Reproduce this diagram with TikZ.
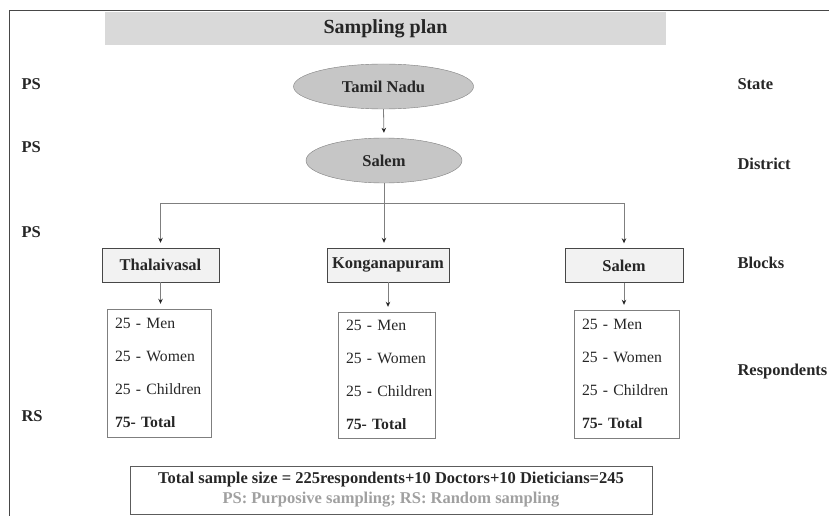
\documentclass[tikz,border=0pt]{standalone}
\usepackage{fontspec}
\setmainfont{Liberation Serif}
\usepackage{tikz}
\usetikzlibrary{arrows.meta, shapes.geometric}
\usepackage{xcolor}
\definecolor{BarGray}{HTML}{D9D9D9}
\definecolor{OvalGray}{HTML}{C6C6C6}
\definecolor{BlockGray}{HTML}{F2F2F2}
\definecolor{EdgeGray}{HTML}{7F7F7F}
\definecolor{InkGray}{HTML}{262626}
\definecolor{NoteGray}{HTML}{A0A0A0}
\newcommand{\respcounts}{\mbox{25 - Men}\\\mbox{25 - Women}\\\mbox{25 - Children}\\\mbox{\textbf{75- Total}}}

\begin{document}
\begin{tikzpicture}[x=1pt, y=-1pt,
    every node/.style={text=InkGray, font=\fontsize{16.5}{20}\selectfont},
    oval/.style={ellipse, draw=EdgeGray, fill=OvalGray, inner sep=0pt,
                 font=\fontsize{16.5}{20}\selectfont\bfseries},
    blockbox/.style={draw=InkGray!85, fill=BlockGray, minimum height=34pt, inner sep=0pt,
                     font=\fontsize{16.5}{20}\selectfont\bfseries},
    respbox/.style={draw=EdgeGray, inner xsep=8pt, inner ysep=0pt, align=left,
                    font=\fontsize{15.7}{33}\selectfont},
    sidelabel/.style={anchor=west, font=\fontsize{16.5}{20}\selectfont\bfseries},
    link/.style={draw=EdgeGray, line width=0.8pt,
                 -{Stealth[length=5pt,width=4.5pt,color=InkGray]}, shorten >=5pt}
  ]
  \useasboundingbox (0,0) rectangle (829,516);

  % frame
  \draw[InkGray!85, line width=1pt] (9,516) -- (9,11) -- (829,11);

  % title
  \node[fill=BarGray, minimum width=561pt, minimum height=33pt,
        font=\fontsize{20}{24}\selectfont\bfseries] (title) at (385.5,28.5) {Sampling plan};

  % levels
  \node[oval, minimum width=180pt, minimum height=45pt] (tamil) at (383.5,86.5) {Tamil Nadu};
  \node[oval, minimum width=156pt, minimum height=45pt] (salem) at (384,160.5) {Salem};

  \node[blockbox, minimum width=117pt] (thala) at (160.5,265) {Thalaivasal};
  \node[blockbox, minimum width=122pt] (konga) at (388,265) {Konganapuram};
  \node[blockbox, minimum width=118pt] (salemblk) at (624,265.5) {Salem};

  \node[respbox, text width=88pt, minimum height=128pt] (thalaresp) at (159,373) {\respcounts};
  \node[respbox, text width=81pt, minimum height=126pt] (kongaresp) at (386.5,375) {\respcounts};
  \node[respbox, text width=89pt, minimum height=128pt] (salemresp) at (626.5,374) {\respcounts};

  % connectors
  \coordinate (split) at (salem.south |- 0,203);
  \draw[link] (tamil.south) -- (salem.north);
  \draw[link] (salem.south) -- (salem.south |- konga.north);
  \draw[link] (split) -| (thala.north);
  \draw[link] (split) -| (salemblk.north);
  \draw[link] (thala.south) -- (thala.south |- thalaresp.north);
  \draw[link] (konga.south) -- (konga.south |- kongaresp.north);
  \draw[link] (salemblk.south) -- (salemblk.south |- salemresp.north);

  % sampling side
  \node[sidelabel] (ps1) at (18,84) {PS};
  \node[sidelabel] (ps2) at (18,147) {PS};
  \node[sidelabel] (ps3) at (18,232) {PS};
  \node[sidelabel] (rs) at (18,416) {RS};

  % level side
  \node[sidelabel] (state) at (734,84) {State};
  \node[sidelabel] (district) at (734,164) {District};
  \node[sidelabel] (blocks) at (734,263) {Blocks};
  \node[sidelabel] (resp) at (734,372) {Respondents};

  % summary
  \node[draw=InkGray!75, minimum width=522pt, minimum height=48pt, align=center,
        inner sep=0pt, font=\fontsize{16.5}{20}\selectfont\bfseries] (total) at (391,490)
    {Total sample size = 225respondents+10 Doctors+10 Dieticians=245\\
     \textcolor{NoteGray}{PS: Purposive sampling; RS: Random sampling}};
\end{tikzpicture}
\end{document}
